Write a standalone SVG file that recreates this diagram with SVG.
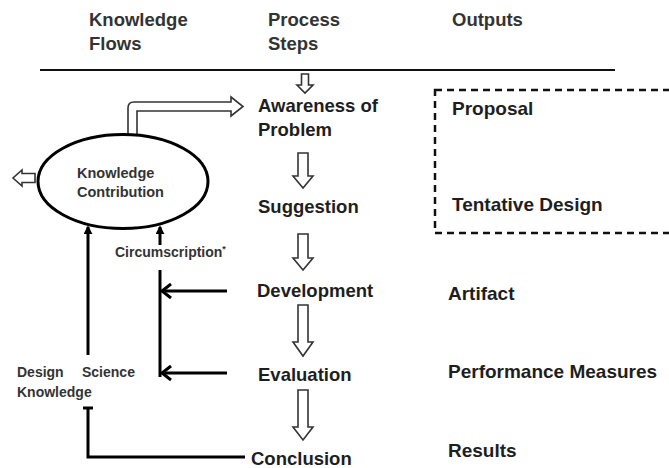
<svg xmlns="http://www.w3.org/2000/svg" width="669" height="468" viewBox="0 0 669 468">
  <style>
    .hdr { font-family: "Liberation Sans", Arial, sans-serif; font-size: 18.5px; font-weight: bold; fill: #333; }
    .step { font-family: "Liberation Sans", Arial, sans-serif; font-size: 18.5px; font-weight: bold; fill: #1e1e1e; }
    .out { font-family: "Liberation Sans", Arial, sans-serif; font-size: 19px; font-weight: bold; fill: #1e1e1e; }
    .small { font-family: "Liberation Sans", Arial, sans-serif; font-size: 14px; font-weight: bold; fill: #333; }
    .hollow { fill: #fff; stroke: #333; stroke-width: 1.6; stroke-linejoin: miter; }
    .line { fill: none; stroke: #000; stroke-width: 3; }
  </style>
  <defs>
    <marker id="solidHead" viewBox="0 0 10 10" refX="8" refY="5" markerWidth="3" markerHeight="3" orient="auto">
      <path d="M0,0 L10,5 L0,10 Z" fill="#000"/>
    </marker>
  </defs>

  <rect width="669" height="468" fill="#fff"/>

  <!-- column headings -->
  <g id="headings">
    <text class="hdr" x="89" y="26">Knowledge</text>
    <text class="hdr" x="89" y="50">Flows</text>
    <text class="hdr" x="268" y="26">Process</text>
    <text class="hdr" x="268" y="50">Steps</text>
    <text class="hdr" x="452" y="26">Outputs</text>
    <line x1="40" y1="70" x2="615" y2="70" stroke="#111" stroke-width="2"/>
  </g>

  <!-- connectors -->
  <g id="connectors">
    <!-- process flow (hollow arrows) -->
    <path class="hollow" d="M301.5,74 H308.5 V85 H313 L305,93 L297,85 H301.5 Z"/>
    <path class="hollow" d="M298,153 H308 V176 H313 L303,188 L293,176 H298 Z"/>
    <path class="hollow" d="M298,234 H308 V258 H313 L303,270 L293,258 H298 Z"/>
    <path class="hollow" d="M298,305 H308 V342 H313 L303,356 L293,342 H298 Z"/>
    <path class="hollow" d="M298,390 H308 V427 H313 L303,440 L293,427 H298 Z"/>

    <!-- contribution out to awareness -->
    <path class="hollow" d="M128,142 V108 Q128,102 134,102 H231 V97 L243,106.5 L231,116 V111 H137 V142 Z"/>
    <!-- contribution out to the left -->
    <path class="hollow" d="M35,173.5 H22 V170 L13,178 L22,186 V182.5 H35 Z"/>

    <!-- circumscription feedback -->
    <path class="line" d="M160,270 V377"/>
    <path class="line" d="M227,291 H162"/>
    <path class="line" d="M171,284 L162,291 L171,298"/>
    <path class="line" d="M227,373 H162"/>
    <path class="line" d="M171,366 L162,373 L171,380"/>
    <path class="line" d="M160,245 V227" marker-end="url(#solidHead)"/>

    <!-- design science knowledge feedback -->
    <path class="line" d="M88,355 V227" marker-end="url(#solidHead)"/>
    <path class="line" d="M245,457 H88 V408"/>
    <path class="line" d="M83,408 H93"/>
  </g>

  <!-- knowledge flows -->
  <g id="knowledge-contribution">
    <ellipse cx="123" cy="181.5" rx="85" ry="47" fill="#fff" stroke="#000" stroke-width="3"/>
    <text class="small" x="77" y="178" style="font-size:14.5px">Knowledge</text>
    <text class="small" x="77" y="197" style="font-size:14.5px">Contribution</text>
  </g>
  <g id="circumscription">
    <text class="small" x="115" y="257">Circumscription<tspan font-size="9" dy="-5">*</tspan></text>
  </g>
  <g id="design-science-knowledge">
    <text class="small" x="17" y="377">Design</text>
    <text class="small" x="82" y="377">Science</text>
    <text class="small" x="17" y="397">Knowledge</text>
  </g>

  <!-- process steps -->
  <g id="awareness">
    <text class="step" x="258" y="112">Awareness of</text>
    <text class="step" x="258" y="136">Problem</text>
  </g>
  <g id="suggestion"><text class="step" x="258" y="213">Suggestion</text></g>
  <g id="development"><text class="step" x="257" y="297">Development</text></g>
  <g id="evaluation"><text class="step" x="258" y="381">Evaluation</text></g>
  <g id="conclusion"><text class="step" x="251" y="465">Conclusion</text></g>

  <!-- outputs -->
  <g id="outputs-box">
    <rect x="435" y="90" width="250" height="143" fill="none" stroke="#111" stroke-width="2.5" stroke-dasharray="7 5"/>
  </g>
  <g id="proposal"><text class="out" x="452" y="115">Proposal</text></g>
  <g id="tentative-design"><text class="out" x="452" y="211">Tentative Design</text></g>
  <g id="artifact"><text class="out" x="448" y="300">Artifact</text></g>
  <g id="performance-measures"><text class="out" x="448" y="378">Performance Measures</text></g>
  <g id="results"><text class="out" x="448" y="457">Results</text></g>
</svg>
